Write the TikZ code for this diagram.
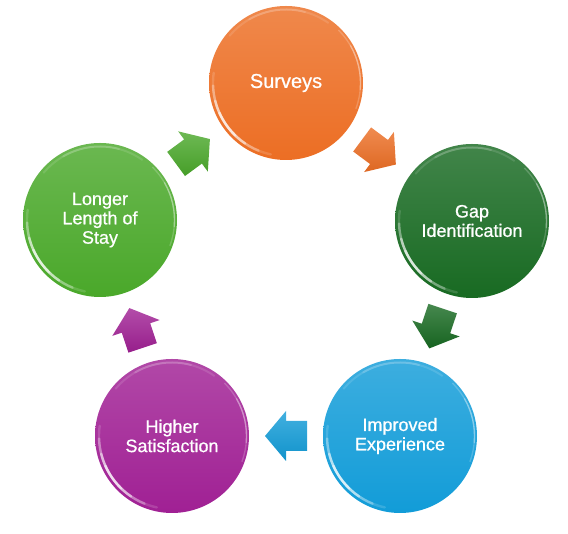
\documentclass[tikz,border=0pt]{standalone}
\usepackage{fontspec}
\setmainfont{Liberation Sans}
\newfontfamily\stagefont[FakeBold=0.8]{Liberation Sans}
\usetikzlibrary{calc}

\definecolor{ccorange}{RGB}{236,110,36}
\definecolor{ccforest}{RGB}{24,106,34}
\definecolor{ccsky}{RGB}{18,156,216}
\definecolor{ccplum}{RGB}{160,32,148}
\definecolor{ccleaf}{RGB}{74,168,42}

\tikzset{
  stage/.style={circle, minimum size=115.5pt, inner sep=0pt, align=center, text=white,
    top color=#1!82!white, bottom color=#1,
    font=\stagefont\fontsize{13.5}{14.5}\selectfont},
  rimlight/.style={white, line cap=round, opacity=#1},
  arrowface/.style={top color=#1!80!white, bottom color=#1!94!black},
}

% white rim light on a stage
\newcommand{\gloss}[1]{%
  \foreach \a/\b/\o in {172/258/.15, 182/248/.3, 194/236/.45, 204/226/.5} {
    \draw[rimlight=\o, line width=1.8pt] ($(#1.center)+(\a:73)$) arc[start angle=\a, end angle=\b, radius=73];
  }
  \foreach \a/\b/\o in {55/140/.12, 75/120/.15} {
    \draw[rimlight=\o, line width=1.5pt] ($(#1.center)+(\a:73.5)$) arc[start angle=\a, end angle=\b, radius=73.5];
  }
  \foreach \a/\b/\o in {-20/45/.2, -5/30/.3} {
    \draw[rimlight=\o, line width=1pt] ($(#1.center)+(\a:74.5)$) arc[start angle=\a, end angle=\b, radius=74.5];
  }}

% block arrow half way from one stage to the next
\newcommand{\cyclearrow}[3]{%
  \pgfmathanglebetweenpoints{\pgfpointanchor{#1}{center}}{\pgfpointanchor{#2}{center}}%
  \let\arrowangle\pgfmathresult
  \begin{scope}[shift={($(#1.center)!0.5!(#2.center)$)}, rotate=\arrowangle]
    \shade[arrowface=#3] (-21,-15) -- (0,-15) -- (0,-25) -- (21,0) -- (0,25) -- (0,15) -- (-21,15) -- cycle;
  \end{scope}}

\begin{document}
\begin{tikzpicture}[x=0.75pt, y=0.75pt]

  % Bounding box of the scheme
  \useasboundingbox (0,0) rectangle (568,534);

  %%%%%%%%%%%%%%%%%%%%%%%%%%%%%%%%% Stages of the cycle %%%%%%%%%%%%%%%%%%%%%%%%%%%%%%%%%%%%
  \node[stage=ccorange, font=\stagefont\fontsize{15}{16}\selectfont] (surveys) at (286,451) {Surveys};
  \node[stage=ccforest] (gap) at (472,313) {Gap\\Identification};
  \node[stage=ccsky] (improved) at (400,98) {Improved\\Experience};
  \node[stage=ccplum] (higher) at (172,98) {Higher\\Satisfaction};
  \node[stage=ccleaf] (longer) at (100,314) {Longer\\Length of\\Stay};

  \foreach \s in {surveys,gap,improved,higher,longer} {\gloss{\s}}

  %%%%%%%%%%%%%%%%%%%%%%%%%%%%%%%%% Arrows between stages %%%%%%%%%%%%%%%%%%%%%%%%%%%%%%%%%%%
  \cyclearrow{surveys}{gap}{ccorange}
  \cyclearrow{gap}{improved}{ccforest}
  \cyclearrow{improved}{higher}{ccsky}
  \cyclearrow{higher}{longer}{ccplum}
  \cyclearrow{longer}{surveys}{ccleaf}

\end{tikzpicture}
\end{document}
